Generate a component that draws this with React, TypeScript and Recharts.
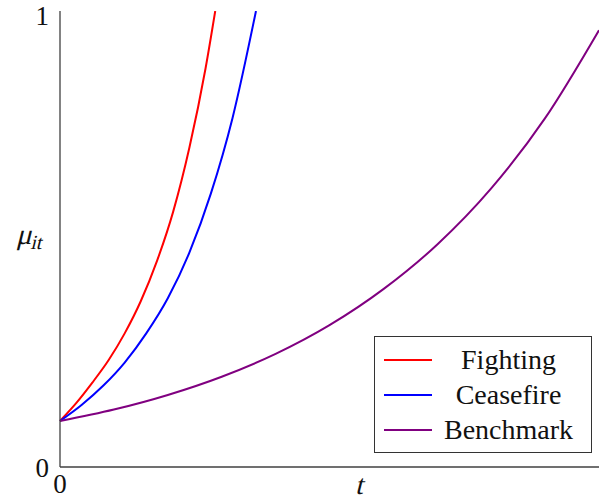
import { LineChart, Line, XAxis, YAxis, Legend, Label } from "recharts"

// t (share of horizontal range) and mu values
const fightingT = [0, 0.03, 0.06, 0.09, 0.12, 0.15, 0.18, 0.21, 0.24, 0.27, 0.288]
const fightingMu = [0.101, 0.14, 0.185, 0.234, 0.293, 0.364, 0.452, 0.56, 0.7, 0.874, 1.0]

const ceasefireT = [0, 0.04, 0.08, 0.12, 0.16, 0.2, 0.24, 0.28, 0.32, 0.3636]
const ceasefireMu = [0.101, 0.136, 0.178, 0.229, 0.293, 0.37, 0.47, 0.6, 0.765, 1.0]

const benchmarkT = [0, 0.1, 0.2, 0.3, 0.4, 0.5, 0.6, 0.7, 0.8, 0.9, 1.0]
const benchmarkMu = [0.101, 0.126, 0.158, 0.198, 0.248, 0.311, 0.39, 0.488, 0.611, 0.765, 0.958]

const yTicks = [0, 1]
const xTicks = [0]

const toPoints = (ts: number[], mus: number[]) => ts.map((t, i) => ({ t, mu: mus[i] }))

const series = [
  { name: "Fighting", color: "#ff0000", data: toPoints(fightingT, fightingMu) },
  { name: "Ceasefire", color: "#0000ff", data: toPoints(ceasefireT, ceasefireMu) },
  { name: "Benchmark", color: "#800080", data: toPoints(benchmarkT, benchmarkMu) },
]

const FONT = "'Liberation Serif'"
const AXIS = "#404040"

function LegendBox() {
  return (
    <div
      style={{
        width: 218,
        height: 117,
        boxSizing: "border-box",
        border: "1px solid #333",
        background: "#fff",
        paddingTop: 5,
        fontFamily: FONT,
        fontSize: 28,
        color: "#111",
      }}
    >
      {series.map(s => (
        <div key={s.name} style={{ height: 35, display: "flex", alignItems: "center" }}>
          <div style={{ width: 48, height: 2, background: s.color, marginLeft: 9 }} />
          <div style={{ flex: 1, textAlign: "center", paddingRight: 6 }}>{s.name}</div>
        </div>
      ))}
    </div>
  )
}

export default function App() {
  return (
    <div style={{ position: "absolute", left: 0, top: 0, width: 599, height: 503, background: "#fff", fontFamily: FONT }}>
      <LineChart
        width={599}
        height={503}
        margin={{ top: 11, right: 0, bottom: 0, left: 0 }}
        style={{ fontFamily: FONT }}
      >
        <XAxis
          type="number"
          dataKey="t"
          domain={[0, 1]}
          ticks={xTicks}
          height={36}
          tickSize={0}
          tickMargin={7}
          axisLine={{ stroke: AXIS, strokeWidth: 1.3 }}
          tick={{ fontSize: 27, fontFamily: FONT, fill: "#111" }}
        >
          {/* slanted with a transform instead of an italic face */}
          <Label
            content={() => (
              <text transform="translate(355,494) skewX(-14)" fontSize={28} fontFamily={FONT} fill="#111">
                t
              </text>
            )}
          />
        </XAxis>
        <XAxis
          xAxisId="top"
          orientation="top"
          type="number"
          dataKey="t"
          domain={[0, 1]}
          height={0}
          tick={false}
          tickLine={false}
          axisLine={{ stroke: AXIS, strokeWidth: 1.3 }}
        />
        <YAxis
          type="number"
          domain={[0, 1]}
          ticks={yTicks}
          allowDataOverflow
          width={60}
          tickSize={0}
          tickMargin={11}
          axisLine={{ stroke: AXIS, strokeWidth: 1.3 }}
          tick={{ fontSize: 27, fontFamily: FONT, fill: "#111" }}
        >
          <Label
            content={() => (
              <text transform="translate(16,244) skewX(-14)" fontFamily={FONT} fill="#111">
                <tspan fontSize={29}>μ</tspan>
                <tspan fontSize={20} dy={5}>it</tspan>
              </text>
            )}
          />
        </YAxis>
        <Legend
          layout="vertical"
          align="center"
          verticalAlign="middle"
          wrapperStyle={{ left: 374, top: 336, width: 218, height: 117 }}
          content={() => <LegendBox />}
        />
        {series.map(s => (
          <Line
            key={s.name}
            name={s.name}
            data={s.data}
            dataKey="mu"
            type="monotone"
            stroke={s.color}
            strokeWidth={2}
            dot={false}
            activeDot={false}
            isAnimationActive={false}
          />
        ))}
      </LineChart>
    </div>
  )
}
